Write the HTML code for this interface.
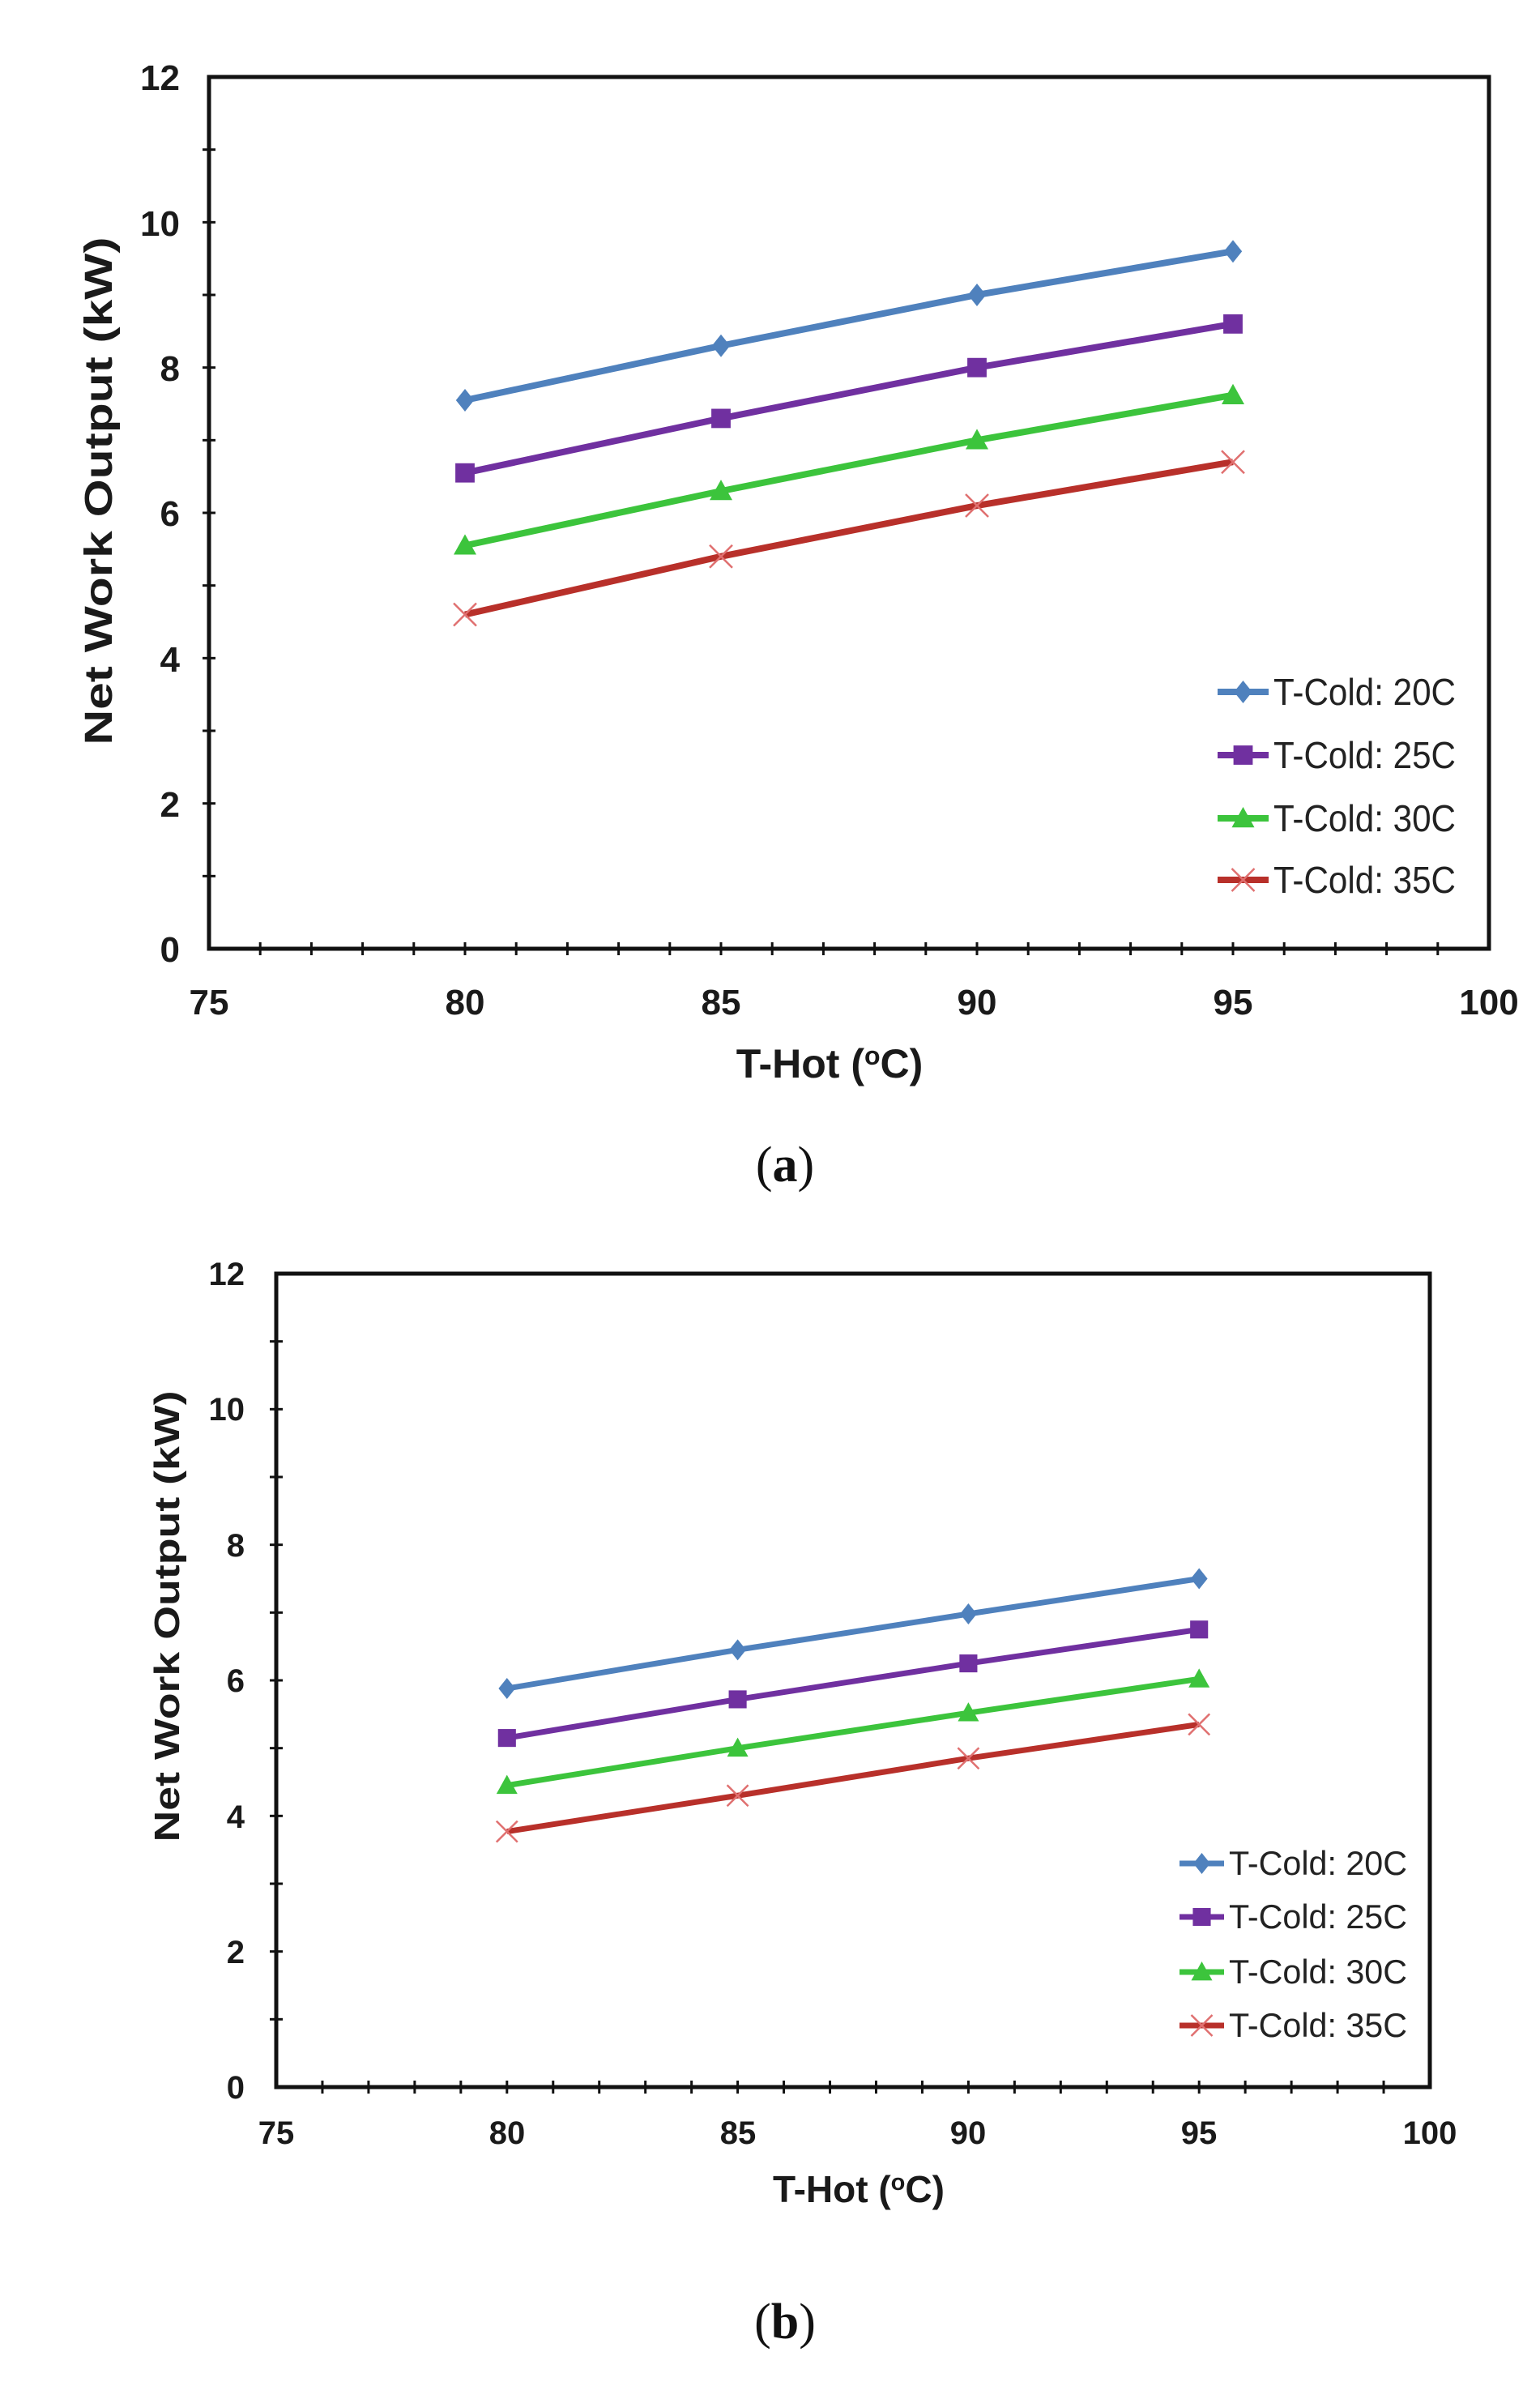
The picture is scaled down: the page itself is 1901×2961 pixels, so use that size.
<!DOCTYPE html>
<html><head><meta charset="utf-8"><style>
html,body{margin:0;padding:0;background:#fff;}
svg{display:block;}
text{font-family:"Liberation Sans",Arial,sans-serif;}
text.cap{font-family:"Liberation Serif","Times New Roman",serif;}
</style></head><body>
<svg id="s" width="1901" height="2961" viewBox="0 0 1901 2961" xmlns="http://www.w3.org/2000/svg">
<g id="g"></g>
<!-- Chart A text -->
<g font-weight="bold" font-size="44" fill="#1a1a1a" text-anchor="end">
<text x="222" y="1187">0</text><text x="222" y="1008">2</text><text x="222" y="829">4</text><text x="222" y="649">6</text><text x="222" y="470">8</text><text x="222" y="291">10</text><text x="222" y="111">12</text>
</g>
<g font-weight="bold" font-size="44" fill="#1a1a1a" text-anchor="middle">
<text x="258" y="1252">75</text><text x="574" y="1252">80</text><text x="890" y="1252">85</text><text x="1206" y="1252">90</text><text x="1522" y="1252">95</text><text x="1838" y="1252">100</text>
<text x="1024" y="1330" font-size="50">T-Hot (<tspan font-size="32" dy="-16">o</tspan><tspan dy="16">C)</tspan></text>
<text transform="translate(138,606) rotate(-90)" font-size="48" textLength="627" lengthAdjust="spacingAndGlyphs">Net Work Output (kW)</text>
</g>
<g font-size="46" fill="#222">
<text x="1572" y="870" textLength="225" lengthAdjust="spacingAndGlyphs">T-Cold: 20C</text>
<text x="1572" y="948" textLength="225" lengthAdjust="spacingAndGlyphs">T-Cold: 25C</text>
<text x="1572" y="1026" textLength="225" lengthAdjust="spacingAndGlyphs">T-Cold: 30C</text>
<text x="1572" y="1102" textLength="225" lengthAdjust="spacingAndGlyphs">T-Cold: 35C</text>
</g>
<text class="cap" x="969" y="1458" font-size="62" text-anchor="middle" fill="#111">(<tspan font-weight="bold">a</tspan>)</text>
<!-- Chart B text -->
<g font-weight="bold" font-size="40" fill="#1a1a1a" text-anchor="end">
<text x="302" y="2590">0</text><text x="302" y="2423">2</text><text x="302" y="2256">4</text><text x="302" y="2088">6</text><text x="302" y="1921">8</text><text x="302" y="1753">10</text><text x="302" y="1586">12</text>
</g>
<g font-weight="bold" font-size="40" fill="#1a1a1a" text-anchor="middle">
<text x="341" y="2646">75</text><text x="626" y="2646">80</text><text x="911" y="2646">85</text><text x="1195" y="2646">90</text><text x="1480" y="2646">95</text><text x="1765" y="2646">100</text>
<text x="1060" y="2718" font-size="46">T-Hot (<tspan font-size="29" dy="-15">o</tspan><tspan dy="15">C)</tspan></text>
<text transform="translate(221,1995) rotate(-90)" font-size="44" textLength="557" lengthAdjust="spacingAndGlyphs">Net Work Output (kW)</text>
</g>
<g font-size="42" fill="#222">
<text x="1517" y="2314" textLength="220" lengthAdjust="spacingAndGlyphs">T-Cold: 20C</text>
<text x="1517" y="2380" textLength="220" lengthAdjust="spacingAndGlyphs">T-Cold: 25C</text>
<text x="1517" y="2448" textLength="220" lengthAdjust="spacingAndGlyphs">T-Cold: 30C</text>
<text x="1517" y="2514" textLength="220" lengthAdjust="spacingAndGlyphs">T-Cold: 35C</text>
</g>
<text class="cap" x="969" y="2886" font-size="62" text-anchor="middle" fill="#111">(<tspan font-weight="bold">b</tspan>)</text>
</svg>
<script>
var NS="http://www.w3.org/2000/svg",g=document.getElementById("g");
function el(t,a){var e=document.createElementNS(NS,t);for(var k in a)e.setAttribute(k,a[k]);g.appendChild(e);return e;}
var cols=["#4f81bd","#7030a0","#3cc43c","#b8302a"];
function marker(i,x,y,s){
 var c=cols[i];
 if(i==0)el("polygon",{points:[x,y-s,x+s*0.8,y,x,y+s,x-s*0.8,y].join(","),fill:c});
 else if(i==1)el("rect",{x:x-s*0.85,y:y-s*0.85,width:s*1.7,height:s*1.7,fill:c});
 else if(i==2)el("polygon",{points:[x,y-s,x+s,y+s*0.8,x-s,y+s*0.8].join(","),fill:c});
 else{el("line",{x1:x-s,y1:y-s,x2:x+s,y2:y+s,stroke:"#e07070","stroke-width":2.5});el("line",{x1:x-s,y1:y+s,x2:x+s,y2:y-s,stroke:"#e07070","stroke-width":2.5});}
}
function chart(L,R,T,B,data,leg,lw,ms){
 var X=function(v){return L+(v-75)/25*(R-L)},Y=function(v){return B-v/12*(B-T)};
 el("rect",{x:L,y:T,width:R-L,height:B-T,fill:"none",stroke:"#111","stroke-width":5});
 for(var v=76;v<100;v++){el("line",{x1:X(v),y1:B-8,x2:X(v),y2:B+8,stroke:"#111","stroke-width":3});}
 for(var v=1;v<12;v++){el("line",{x1:L-8,y1:Y(v),x2:L+8,y2:Y(v),stroke:"#111","stroke-width":3});}
 var xs=[80,85,90,95];
 data.forEach(function(d,i){
  el("polyline",{points:d.map(function(v,j){return X(xs[j])+","+Y(v)}).join(" "),fill:"none",stroke:cols[i],"stroke-width":lw,"stroke-linejoin":"round"});
  d.forEach(function(v,j){marker(i,X(xs[j]),Y(v),ms)});
  var ly=leg.ys[i];
  el("line",{x1:leg.x1,y1:ly,x2:leg.x2,y2:ly,stroke:cols[i],"stroke-width":lw});
  marker(i,(leg.x1+leg.x2)/2,ly,ms);
 });
}
chart(258,1838,95,1171,[[7.55,8.3,9.0,9.6],[6.55,7.3,8.0,8.6],[5.55,6.3,7.0,7.62],[4.6,5.4,6.1,6.7]],{x1:1503,x2:1566,ys:[854,932,1010,1086]},8,14);
chart(341,1765,1572,2576,[[5.88,6.45,6.98,7.5],[5.15,5.72,6.25,6.75],[4.45,5.0,5.52,6.02],[3.77,4.3,4.85,5.35]],{x1:1456,x2:1511,ys:[2300,2366,2434,2500]},7,13);
</script>
</body></html>
